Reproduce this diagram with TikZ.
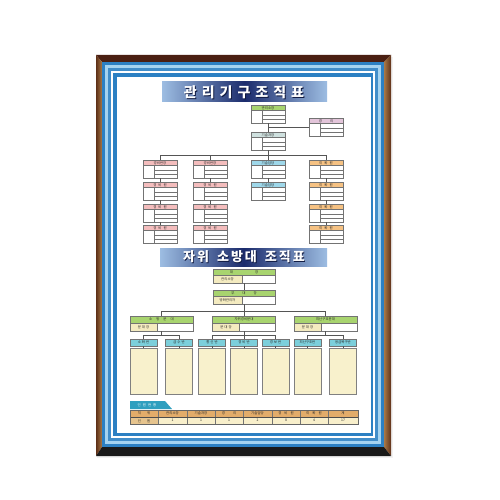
\documentclass[tikz,border=0pt]{standalone}
\usepackage{fontspec}
\newfontfamily\kr{Noto Sans CJK KR}
\usetikzlibrary{calc}
\definecolor{woodtop}{HTML}{4A1F12}
\definecolor{woodside}{HTML}{5E3018}
\definecolor{woodlight}{HTML}{A87846}
\definecolor{matblue}{HTML}{2C80C3}
\definecolor{matlight}{HTML}{A5D3F0}
\definecolor{navy}{HTML}{1B2B6C}
\definecolor{bannerl}{HTML}{9DBDE2}
\definecolor{hgreen}{HTML}{A8D46F}
\definecolor{hpink}{HTML}{F4BDBD}
\definecolor{hcyan}{HTML}{9FD8EA}
\definecolor{horange}{HTML}{F6C283}
\definecolor{hlav}{HTML}{E3C5DA}
\definecolor{hgray}{HTML}{CFE1DF}
\definecolor{cellyel}{HTML}{F4EBC0}
\definecolor{subteal}{HTML}{7CCFDB}
\definecolor{cream}{HTML}{F8F1CC}
\definecolor{tabteal}{HTML}{2F9FBF}
\definecolor{tblhead}{HTML}{E2AC6A}
\definecolor{tblrow}{HTML}{F8EFCB}
\definecolor{tblfirst}{HTML}{E6C48E}
\definecolor{lncol}{HTML}{555555}
\tikzset{
  hdrtxt/.style={font=\kr\fontsize{3.4}{4}\selectfont, inner sep=0pt, text=black!85},
  boxline/.style={draw=black!55, line width=0.35pt},
  boxframe/.style={draw=black!55, line width=0.35pt, fill=white, inner sep=0pt, minimum width=34pt, minimum height=18pt},
  conn/.style={draw=lncol, line width=0.55pt},
  subhdr/.style={draw=black!55, line width=0.35pt, fill=subteal, inner sep=0pt, minimum width=27pt, minimum height=7pt, font=\kr\fontsize{3.4}{4}\selectfont, text=black!85},
  subbody/.style={draw=black!50, line width=0.35pt, fill=cream, inner sep=0pt, minimum width=27pt, minimum height=46pt},
  titletxt/.style={font=\kr\bfseries\fontsize{14}{14}\selectfont, inner sep=0pt}
}
\newcommand{\orgbox}[5]{%
  \begin{scope}[shift={(#2,#3)}]
    \node[boxframe] (#1) at (17,9) {};
    \fill[#4] (0,0) rectangle (34,5.5);
    \draw[boxline] (0,0) rectangle (34,18) (0,5.5) -- (34,5.5) (11,5.5) -- (11,18)
      (11,9.7) -- (34,9.7) (11,13.9) -- (34,13.9);
    \node[hdrtxt] at (17,2.9) {#5};
  \end{scope}}
\newcommand{\twobox}[9]{% name x y w h hh cw header cell
  \begin{scope}[shift={(#2,#3)}]
    \node[boxframe, minimum width=#4pt, minimum height=#5pt] (#1) at ({#4/2},{#5/2}) {};
    \fill[hgreen] (0,0) rectangle (#4,#6);
    \fill[cellyel] (0,#6) rectangle (#7,#5);
    \draw[boxline] (0,0) rectangle (#4,#5) (0,#6) -- (#4,#6) (#7,#6) -- (#7,#5);
    \node[hdrtxt] at ({#4/2},{#6/2+0.2}) {#8};
    \node[hdrtxt] at ({#7/2},{(#5+#6)/2+0.2}) {#9};
  \end{scope}}
\begin{document}
\begin{tikzpicture}[x=1pt,y=-1pt]
\useasboundingbox (0,0) rectangle (500,500);
\fill[white] (0,0) rectangle (500,500);
% shadow
\fill[black!5] (97,57) rectangle (393,458);
% wooden frame
\fill[woodtop] (96,55) -- (391,55) -- (384,62) -- (102,62) -- cycle;
\shade[left color=woodside, right color=woodlight] (96,55) -- (102,62) -- (102,447) -- (96,456) -- cycle;
\shade[left color=woodlight, right color=woodside] (391,55) -- (384,62) -- (384,447) -- (391,456) -- cycle;
\fill[black!90] (96,456) -- (102,447) -- (384,447) -- (391,456) -- cycle;
% mat
\fill[matblue] (102,62) rectangle (384,447);
\fill[matlight] (105,65) rectangle (381,444);
\fill[matblue!90] (108,68) rectangle (378,441);
\fill[white] (111,71) rectangle (375,438);
\fill[matblue] (113,73) rectangle (373,436);
\fill[white] (117,77) rectangle (371,433);

% ---------- title 1
\shade[left color=bannerl, right color=bannerl, middle color=navy] (162,82) rectangle (327,102);
\node[titletxt, text=navy!60!black] at (245,92.8) {관\hspace{5pt}리\hspace{5pt}기\hspace{5pt}구\hspace{5pt}조\hspace{5pt}직\hspace{5pt}표};
\node[titletxt, text=white] (t1) at (244,92) {관\hspace{5pt}리\hspace{5pt}기\hspace{5pt}구\hspace{5pt}조\hspace{5pt}직\hspace{5pt}표};

% ---------- top chart
\orgbox{gm}{251}{105}{hgreen}{관리소장}
\orgbox{aud}{309}{118}{hlav}{경\hspace{8pt}리}
\orgbox{tm}{251}{132}{hgray}{기술과장}

\orgbox{ca}{143}{160}{hpink}{경비반장}
\orgbox{cb}{143}{182}{hpink}{경\hspace{2pt}비\hspace{2pt}원}
\orgbox{cc}{143}{204}{hpink}{경\hspace{2pt}비\hspace{2pt}원}
\orgbox{cd}{143}{225}{hpink}{경\hspace{2pt}비\hspace{2pt}원}

\orgbox{da}{193}{160}{hpink}{경비반장}
\orgbox{db}{193}{182}{hpink}{경\hspace{2pt}비\hspace{2pt}원}
\orgbox{dc}{193}{204}{hpink}{경\hspace{2pt}비\hspace{2pt}원}
\orgbox{dd}{193}{225}{hpink}{경\hspace{2pt}비\hspace{2pt}원}

\orgbox{ea}{251}{160}{hcyan}{기술담당}
\orgbox{eb}{251}{182}{hcyan}{기술담당}

\orgbox{fa}{309}{160}{horange}{미\hspace{2pt}화\hspace{2pt}원}
\orgbox{fb}{309}{182}{horange}{미\hspace{2pt}화\hspace{2pt}원}
\orgbox{fc}{309}{204}{horange}{미\hspace{2pt}화\hspace{2pt}원}
\orgbox{fd}{309}{225}{horange}{미\hspace{2pt}화\hspace{2pt}원}

\coordinate (bus1) at (0,155);
\draw[conn] (gm.south) -- (tm.north);
\draw[conn] (gm.south |- aud.west) -- (aud.west);
\draw[conn] (tm.south) -- (tm.south |- bus1);
\draw[conn] (ca.north) -- (ca.north |- bus1) -| (fa.north);
\draw[conn] (da.north) -- (da.north |- bus1);
\draw[conn] (ea.north) -- (ea.north |- bus1);
\draw[conn] (ca.south) -- (cb.north) (cb.south) -- (cc.north) (cc.south) -- (cd.north);
\draw[conn] (da.south) -- (db.north) (db.south) -- (dc.north) (dc.south) -- (dd.north);
\draw[conn] (ea.south) -- (eb.north);
\draw[conn] (fa.south) -- (fb.north) (fb.south) -- (fc.north) (fc.south) -- (fd.north);

% ---------- title 2
\shade[left color=bannerl, right color=bannerl, middle color=navy] (160,248) rectangle (327,266);
\node[titletxt, font=\kr\bfseries\fontsize{13}{13}\selectfont, text=navy!60!black] at (244.8,257.8) {자\hspace{2pt}위\hspace{8pt}소\hspace{2pt}방\hspace{2pt}대\hspace{8pt}조\hspace{2pt}직\hspace{2pt}표};
\node[titletxt, font=\kr\bfseries\fontsize{13}{13}\selectfont, text=white] (t2) at (244,257) {자\hspace{2pt}위\hspace{8pt}소\hspace{2pt}방\hspace{2pt}대\hspace{8pt}조\hspace{2pt}직\hspace{2pt}표};

% ---------- second chart
\twobox{chief}{213}{269}{62}{14}{6.5}{29}{대\hspace{22pt}장}{관리소장}
\twobox{vice}{213}{290}{62}{14}{6.5}{29}{부\hspace{8pt}대\hspace{8pt}장}{방화관리자}
\twobox{g1}{130}{316}{63}{15}{7}{27}{소\hspace{4pt}방\hspace{4pt}분\hspace{4pt}대}{분\hspace{1pt}대\hspace{1pt}장}
\twobox{g2}{212.5}{316}{63}{15}{7}{27}{자위경비분대}{분\hspace{1pt}대\hspace{1pt}장}
\twobox{g3}{294}{316}{63}{15}{7}{27}{피난구호분대}{분\hspace{1pt}대\hspace{1pt}장}

\coordinate (bus2) at (0,311);
\draw[conn] (chief.south) -- (vice.north);
\draw[conn] (vice.south) -- (g2.north);
\draw[conn] (g1.north) -- (g1.north |- bus2) -| (g3.north);

\node[subhdr] (s1) at (143.5,342.5) {소\hspace{1pt}화\hspace{1pt}반};
\node[subhdr] (s2) at (179,342.5) {급\hspace{1pt}수\hspace{1pt}반};
\node[subhdr] (s3) at (212,342.5) {통\hspace{1pt}신\hspace{1pt}반};
\node[subhdr] (s4) at (244,342.5) {경\hspace{1pt}비\hspace{1pt}반};
\node[subhdr] (s5) at (275.5,342.5) {경\hspace{1pt}보\hspace{1pt}반};
\node[subhdr] (s6) at (307.5,342.5) {피난구조반};
\node[subhdr] (s7) at (343,342.5) {응급복구반};
\foreach \i/\x in {1/143.5,2/179,3/212,4/244,5/275.5,6/307.5,7/343}{
  \node[subbody] (b\i) at (\x,371) {};
  \draw[conn] (s\i.south) -- (b\i.north);
}
\coordinate (sb) at (0,335);
\draw[conn] (g1.south) -- (g1.south |- sb);
\draw[conn] (s1.north) -- (s1.north |- sb) -| (s2.north);
\draw[conn] (g2.south) -- (g2.south |- sb);
\draw[conn] (s3.north) -- (s3.north |- sb) -| (s5.north);
\draw[conn] (s4.north) -- (s4.north |- sb);
\draw[conn] (g3.south) -- (g3.south |- sb);
\draw[conn] (s6.north) -- (s6.north |- sb) -| (s7.north);

% ---------- table
\fill[tabteal] (130,401) -- (165,401) -- (172,409) -- (130,409) -- cycle;
\node[hdrtxt, text=white] at (147,405.2) {인\hspace{2pt}원\hspace{2pt}현\hspace{2pt}황};
\fill[tblhead] (130,410) rectangle (358,417);
\fill[tblrow] (130,417) rectangle (358,424);
\fill[tblfirst] (130,417) rectangle (158,424);
\foreach \a/\b/\h/\v in {130/158/직\hspace{6pt}위/인\hspace{6pt}원,
  158/187/관리소장/1, 187/215/기술과장/1, 215/243/경\hspace{8pt}리/1,
  243/272/기술담당/2, 272/300/경\hspace{3pt}비\hspace{3pt}원/8,
  300/328/미\hspace{3pt}화\hspace{3pt}원/4, 328/358/계/17}{
  \draw[boxline] (\a,410) rectangle (\b,424);
  \node[hdrtxt] at ({(\a+\b)/2},413.7) {\h};
  \node[hdrtxt] at ({(\a+\b)/2},420.7) {\v};
}
\draw[draw=black!70, line width=0.5pt] (130,417) -- (358,417);
\draw[draw=black!60, line width=0.5pt] (130,410) rectangle (358,424);
\end{tikzpicture}
\end{document}
